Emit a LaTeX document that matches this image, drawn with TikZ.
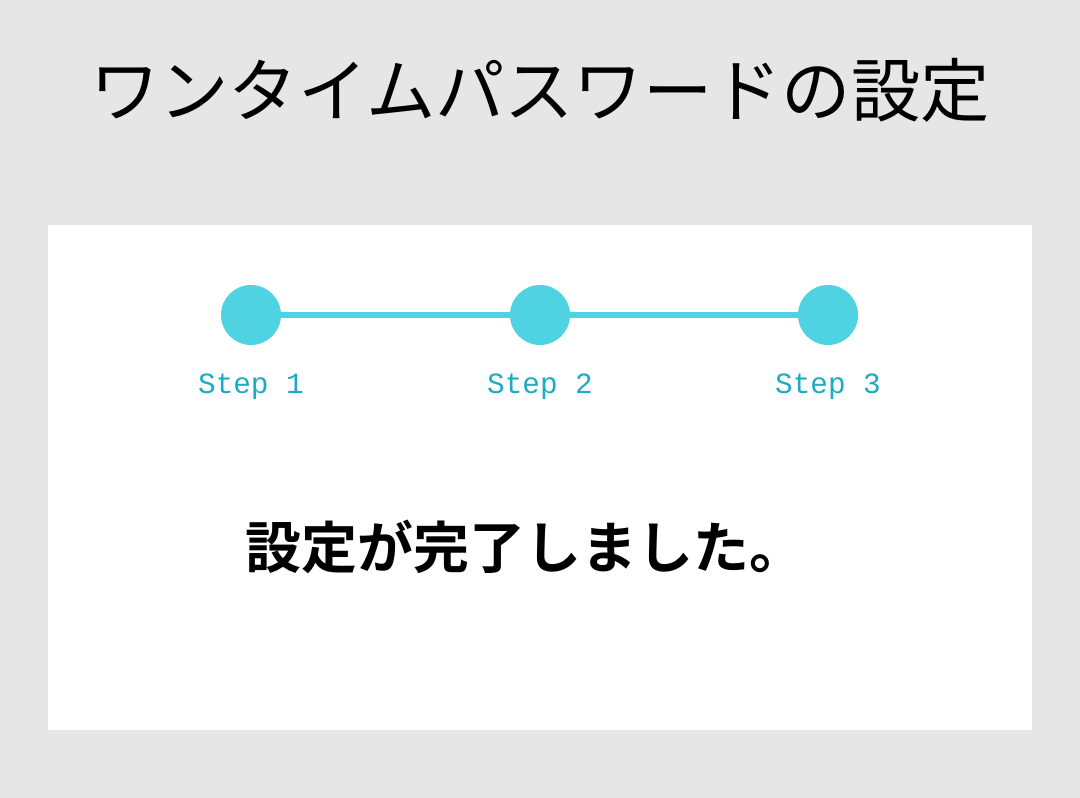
\documentclass[tikz,border=0pt]{standalone}
\usepackage{fontspec}
\newfontfamily\cjk{Noto Sans CJK JP}[BoldFont={* Bold}]
\newfontfamily\stepfont{Liberation Mono}
\definecolor{bg}{HTML}{E6E6E6}
\definecolor{dot}{HTML}{4FD3E3}
\definecolor{steptxt}{HTML}{1AABC6}
\begin{document}
\begin{tikzpicture}[x=0.75pt,y=-0.75pt,
  stepdot/.style={circle,fill=dot,minimum size=45pt,inner sep=0pt},
  steplabel/.style={text=steptxt,font=\stepfont\fontsize{22}{24}\selectfont}]
\fill[bg] (0,0) rectangle (1080,798);
\useasboundingbox (0,0) rectangle (1080,798);
\fill[white] (48,225) rectangle (1032,730);
\node[font=\cjk\fontsize{52}{60}\selectfont] (title) at (540,90) {ワンタイムパスワードの設定};
\node[stepdot] (s1) at (251,315) {};
\node[stepdot] (s2) at (540,315) {};
\node[stepdot] (s3) at (828,315) {};
\draw[dot,line width=5pt] (s1) -- (s2);
\draw[dot,line width=5pt] (s2) -- (s3);
\node[steplabel] (l1) at (251,387) {Step 1};
\node[steplabel] (l2) at (540,387) {Step 2};
\node[steplabel] (l3) at (828,387) {Step 3};
\node[font=\cjk\bfseries\fontsize{42}{50}\selectfont] (msg) at (525,547) {設定が完了しました。};
\end{tikzpicture}
\end{document}
